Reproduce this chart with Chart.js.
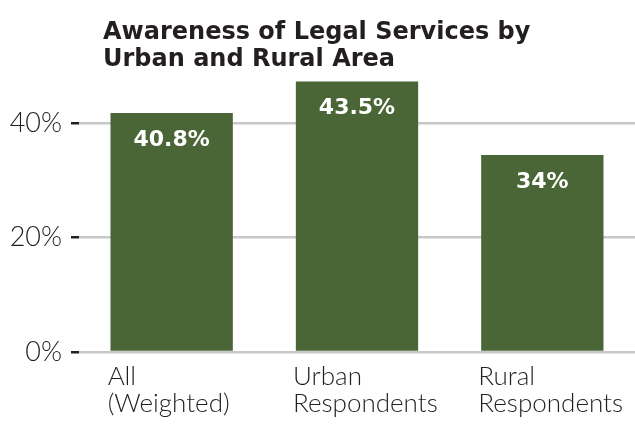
<!DOCTYPE html>
<html>
<head>
<meta charset="utf-8">
<script src="https://cdn.jsdelivr.net/npm/chart.js@4/dist/chart.umd.min.js"></script>
<style>
  html, body { margin: 0; padding: 0; background: #fff; }
  canvas { display: block; }
</style>
</head>
<body>
<canvas id="grafico" width="635" height="427"></canvas>
<script>
const categorias = [['All', '(Weighted)'], ['Urban', 'Respondents'], ['Rural', 'Respondents']];
// bar heights as drawn in the picture (the printed labels differ a bit)
const alturas = [41.7, 47.2, 34.4];
const rotulos = ['40.8%', '43.5%', '34%'];
const yTicks = [0, 20, 40];
const titulo = ['Awareness of Legal Services by', 'Urban and Rural Area'];

const verde = '#4a6536';
const fonteLeve = '"Lato", "Open Sans", sans-serif';
const fonteForte = '"DejaVu Sans", sans-serif';

// Título em duas linhas
const tituloPlugin = {
    id: 'titulo',
    afterDraw(chart) {
        const c = chart.ctx;
        c.save();
        c.fillStyle = '#231f20';
        c.font = 'bold 24px ' + fonteForte;
        c.textBaseline = 'alphabetic';
        c.textAlign = 'left';
        c.fillText(titulo[0], 103, 39);
        c.fillText(titulo[1], 103, 66);
        c.restore();
    }
};

// Rótulos brancos dentro das barras
const rotulosPlugin = {
    id: 'rotulos',
    afterDatasetsDraw(chart) {
        const c = chart.ctx;
        const meta = chart.getDatasetMeta(0);
        c.save();
        c.fillStyle = '#fff';
        c.font = 'bold 22px ' + fonteForte;
        c.textAlign = 'center';
        c.textBaseline = 'middle';
        meta.data.forEach((bar, i) => {
            c.fillText(rotulos[i], bar.x, bar.y + 27);
        });
        c.restore();
    }
};

new Chart(document.getElementById('grafico'), {
    type: 'bar',
    data: {
        labels: categorias,
        datasets: [{
            data: alturas,
            backgroundColor: verde,
            borderWidth: 0,
            categoryPercentage: 1,
            barPercentage: 0.66
        }]
    },
    options: {
        responsive: false,
        animation: false,
        devicePixelRatio: 1,
        layout: { padding: { top: 77, left: 10, right: 0, bottom: 0 } },
        plugins: {
            legend: { display: false },
            tooltip: { enabled: false }
        },
        scales: {
            x: {
                grid: { display: false, drawTicks: false },
                border: { display: false },
                afterFit: s => {
                    s.height = 75;
                    s.paddingLeft = 0;
                    s.paddingRight = 0;
                },
                ticks: {
                    color: '#231f20',
                    font: { family: fonteLeve, size: 26, weight: '300', lineHeight: 1.05 },
                    align: 'start',
                    labelOffset: -64,
                    padding: 11,
                    maxRotation: 0,
                    autoSkip: false
                }
            },
            y: {
                min: 0,
                max: 48,
                afterFit: s => { s.width = 69; },
                afterBuildTicks: s => {
                    s.ticks = yTicks.map(v => ({ value: v }));
                },
                border: { display: false },
                grid: {
                    color: '#c8c8c8',
                    lineWidth: 2.5,
                    tickColor: '#231f20',
                    tickWidth: 2.5,
                    tickLength: 8
                },
                ticks: {
                    color: '#231f20',
                    font: { family: fonteLeve, size: 27, weight: '300' },
                    padding: 9,
                    callback: v => v + '%'
                }
            }
        }
    },
    plugins: [tituloPlugin, rotulosPlugin]
});
</script>
</body>
</html>
